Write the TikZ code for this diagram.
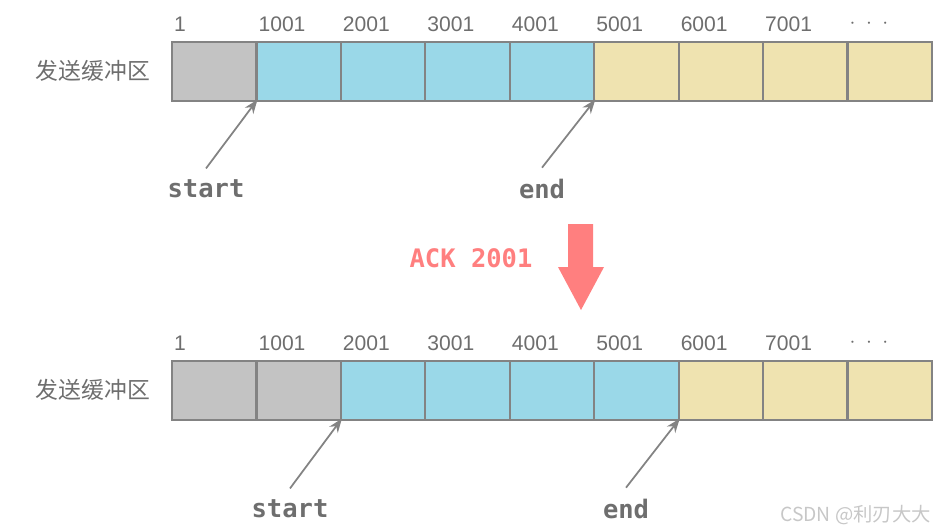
\documentclass[tikz,border=0pt]{standalone}
\usepackage{fontspec}
\setmainfont{Liberation Sans}
\newfontfamily\cnfont{Noto Sans CJK SC}
\newfontfamily\codefont{DejaVu Sans Mono}
\usetikzlibrary{arrows.meta}

\definecolor{cellgray}{HTML}{C3C3C3}
\definecolor{cellblue}{HTML}{9AD8E8}
\definecolor{cellyellow}{HTML}{EFE3B0}
\definecolor{edgegray}{HTML}{838383}
\definecolor{txtgray}{HTML}{6E6E6E}
\definecolor{ackred}{HTML}{FF7F7F}

\tikzset{
  cell/.style={draw=edgegray, line width=1.2pt, minimum width=1.689cm, minimum height=1.18cm, inner sep=0pt, outer sep=0pt},
  seqnum/.style={anchor=south west, inner sep=0pt, text=txtgray, font=\fontsize{12}{12}\selectfont},
  bufname/.style={text=txtgray, font=\cnfont\fontsize{13}{13}\selectfont},
  ptrlabel/.style={text=txtgray, font=\codefont\bfseries\fontsize{14.5}{15}\selectfont},
  ptr/.style={->, >={Stealth[length=8pt,width=6pt]}, edgegray, line width=1pt, shorten >=-1pt},
}

\begin{document}
\begin{tikzpicture}[x=0.02cm, y=-0.02cm]
  \useasboundingbox (0,0) rectangle (939,531);

  % buffer before the ack
  \node[bufname] (tname) at (93,71) {发送缓冲区};
  \foreach \i/\c/\n in {0/cellgray/1, 1/cellblue/1001, 2/cellblue/2001, 3/cellblue/3001,
      4/cellblue/4001, 5/cellyellow/5001, 6/cellyellow/6001, 7/cellyellow/7001,
      8/cellyellow/{\raisebox{2pt}{$\cdot\;\cdot\;\cdot$}}}{
    \node[cell, fill=\c] (t\i) at ({172+84.44*(\i+0.5)},71.5) {};
    \node[seqnum] (tn\i) at ([xshift=1pt,yshift=5.7pt]t\i.north west) {\n};
  }
  \node[ptrlabel] (tstart) at (206,189) {start};
  \node[ptrlabel] (tend) at (542,189) {end};
  \draw[ptr] ([yshift=3pt]tstart.north) -- (t0.south east);
  \draw[ptr] ([yshift=3pt]tend.north) -- (t4.south east);

  % ack
  \node[text=ackred, font=\codefont\bfseries\fontsize{14.5}{15}\selectfont] (ack) at (471,258) {ACK 2001};
  \fill[ackred] (568,224) -- (593,224) -- (593,267) -- (604,267) -- (581,310) -- (558,267) -- (568,267) -- cycle;

  % buffer after the ack
  \node[bufname] (bname) at (93,390) {发送缓冲区};
  \foreach \i/\c/\n in {0/cellgray/1, 1/cellgray/1001, 2/cellblue/2001, 3/cellblue/3001,
      4/cellblue/4001, 5/cellblue/5001, 6/cellyellow/6001, 7/cellyellow/7001,
      8/cellyellow/{\raisebox{2pt}{$\cdot\;\cdot\;\cdot$}}}{
    \node[cell, fill=\c] (b\i) at ({172+84.44*(\i+0.5)},390.5) {};
    \node[seqnum] (bn\i) at ([xshift=1pt,yshift=5.7pt]b\i.north west) {\n};
  }
  \node[ptrlabel] (bstart) at (290,509) {start};
  \node[ptrlabel] (bend) at (626,509) {end};
  \draw[ptr] ([yshift=3pt]bstart.north) -- (b1.south east);
  \draw[ptr] ([yshift=3pt]bend.north) -- (b5.south east);

  \node[anchor=east, text=black!22, font=\cnfont\fontsize{11}{11}\selectfont] (mark) at (937,515) {CSDN @利刃大大};
\end{tikzpicture}
\end{document}
